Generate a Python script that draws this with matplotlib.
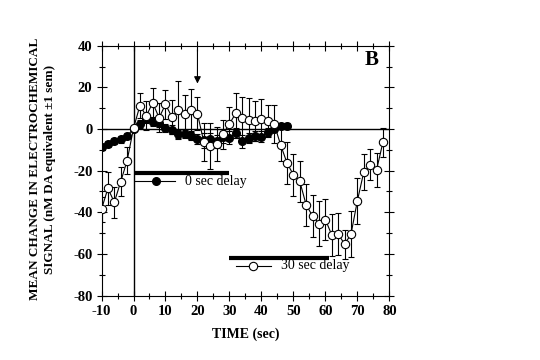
import numpy as np
import matplotlib
matplotlib.use("Agg")
import matplotlib.pyplot as plt
from matplotlib.ticker import MultipleLocator

# ==============================
# DATA
# ==============================
t_open = list(range(-10, 80, 2))
open_mean = [-38.5, -28.5, -35.2, -25.3, -15.2, 0.3, 11.2, 6.3, 12.6, 5.4,
             11.8, 5.8, 9.1, 7.2, 9.0, 7.3, -6.3, -8.2, -7.2, -2.5,
             2.5, 7.6, 5.4, 4.3, 4.0, 4.8, 3.8, 2.4, -7.6, -16.3,
             -22.0, -25.2, -36.5, -41.8, -45.4, -43.5, -50.9, -50.4, -55.3, -50.6,
             -34.5, -20.7, -17.2, -19.7, -6.3]
open_sem = [6, 8, 7.5, 7, 6.5, 1, 6, 7, 7, 7,
            7, 8, 14, 9, 10, 8, 9, 11, 8, 7,
            8, 9.5, 10, 10.5, 9.6, 9.6, 7.7, 9, 8, 10,
            10, 10, 10, 10, 11, 10, 10, 10, 7, 11,
            11, 8.5, 7.5, 8, 7]

t_filled = list(range(-10, 50, 2))
filled_mean = [-8.8, -7.2, -5.8, -5.0, -3.2, 0.0, 2.3, 5.0, 3.4, 3.0,
               0.6, -0.3, -2.3, -2.5, -3.3, -4.8, -5.5, -4.9, -6.0, -3.8,
               -4.2, -2.0, -6.0, -4.4, -3.3, -3.7, -1.3, 0.0, 1.4, 1.5]
filled_sem = [1.5, 1.5, 1.5, 1.5, 1.5, 1, 2, 2, 2, 2,
              2, 2, 2, 2, 2, 2.5, 3.5, 3, 3, 3,
              3, 2.5, 3, 2.5, 2.5, 2.5, 2, 1.5, 1.5, 1.5]

# delay periods (sec)
delay_0 = [0, 30]
delay_30 = [30, 61]
arrow_t = 20

# ==============================
# FIGURE
# ==============================
plt.rcParams['font.family'] = ['Liberation Serif', 'DejaVu Serif']
plt.rcParams['font.weight'] = 'bold'
plt.rcParams['axes.unicode_minus'] = False

fig = plt.figure(figsize=(5.4, 3.6), dpi=100)
ax = fig.add_axes([0.188, 0.179, 0.533, 0.694])

ax.axhline(0, color='black', lw=1.0, zorder=1)
ax.axvline(0, color='black', lw=1.0, zorder=1)

# filled circles: 0 sec delay
ax.errorbar(t_filled, filled_mean, yerr=filled_sem, fmt='-o', color='black',
            mfc='black', mec='black', ms=5.5, lw=0.8, elinewidth=0.8,
            capsize=2, capthick=0.8, zorder=2)

# open circles: 30 sec delay
ax.errorbar(t_open, open_mean, yerr=open_sem, fmt='-o', color='black',
            mfc='white', mec='black', ms=6, mew=0.8, lw=0.8, elinewidth=0.8,
            capsize=2, capthick=0.8, zorder=3)

# delay bars + legend keys
ax.plot(delay_0, [-21.3, -21.3], color='black', lw=3, solid_capstyle='butt')
ax.plot([0.5, 13], [-25, -25], color='black', lw=0.8)
ax.plot([7], [-25], 'o', color='black', ms=5.5)
ax.text(16, -25, '0 sec delay', fontsize=10, fontweight='normal', va='center')

ax.plot(delay_30, [-62, -62], color='black', lw=3, solid_capstyle='butt')
ax.plot([32, 43], [-65.8, -65.8], color='black', lw=0.8)
ax.plot([37.5], [-65.8], 'o', color='black', mfc='white', ms=6, mew=0.8)
ax.text(46, -65.8, '30 sec delay', fontsize=10, fontweight='normal', va='center')

# arrow
ax.annotate('', xy=(arrow_t, 20.5), xytext=(arrow_t, 39.5),
            arrowprops=dict(arrowstyle='-|>', color='black', lw=0.8,
                            mutation_scale=10))

ax.text(74.5, 33, 'B', fontsize=15, fontweight='bold', ha='center', va='center')

ax.set_xlim(-10, 80)
ax.set_ylim(-80, 40)
ax.xaxis.set_major_locator(MultipleLocator(10))
ax.xaxis.set_minor_locator(MultipleLocator(5))
ax.yaxis.set_major_locator(MultipleLocator(20))
ax.yaxis.set_minor_locator(MultipleLocator(10))

ax.tick_params(which='both', direction='inout', top=True, right=True,
               labelsize=10.5, width=0.8)
ax.tick_params(which='major', length=7, pad=3)
ax.tick_params(which='minor', length=4)
for lab in ax.get_xticklabels() + ax.get_yticklabels():
    lab.set_fontweight('bold')
for s in ax.spines.values():
    s.set_linewidth(0.8)

ax.set_xlabel('TIME (sec)', fontsize=10, fontweight='bold', labelpad=7)
fig.text(0.079, 0.53, 'MEAN CHANGE IN ELECTROCHEMICAL\nSIGNAL (nM DA equivalent \u00b11 sem)',
         rotation=90, ha='center', va='center', fontsize=9.5, fontweight='bold',
         linespacing=1.35)

fig.savefig('out.png', dpi=100)
